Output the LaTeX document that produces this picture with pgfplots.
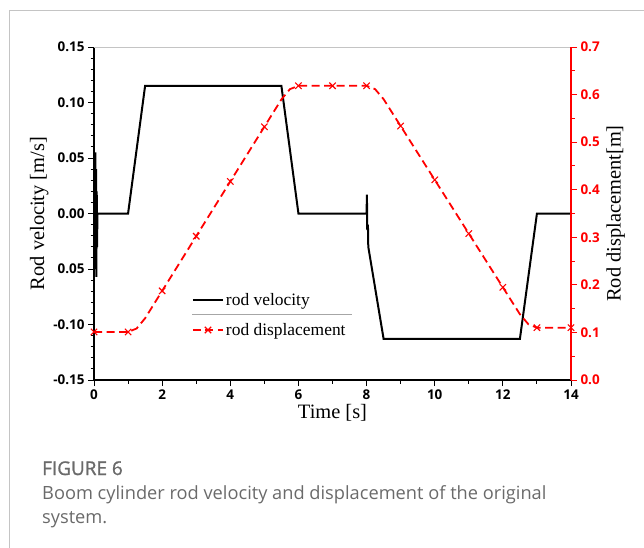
\documentclass[border=0pt]{standalone}
\usepackage{pgfplots}
\pgfplotsset{compat=1.18}
\usepackage{fontspec}
\setmainfont{Liberation Serif}
\newfontfamily\ticksans{Open Sans}
\newfontfamily\capsans{Open Sans}
\newfontfamily\capsemi[FakeBold=1.2]{Open Sans}
\definecolor{capgray}{HTML}{6A6A6A}
\definecolor{framegray}{HTML}{C4C4C4}

\begin{document}
\begin{tikzpicture}[x=1bp,y=1bp]
\path[use as bounding box] (0,0) rectangle (644,-548);
% page frame
\draw[framegray, line width=0.9bp] (9,-548) -- (9,-10) -- (644,-10);

% velocity (left axis)
\begin{axis}[
  at={(94bp,-380bp)}, anchor=south west,
  scale only axis, width=477bp, height=333bp,
  xmin=0, xmax=14, ymin=-0.15, ymax=0.15,
  axis x line*=bottom, axis y line*=left,
  axis line style={black, line width=1.1bp},
  xtick={0,2,...,14}, minor xtick={1,3,...,13},
  ytick={-0.15,-0.10,-0.05,0,0.05,0.10,0.15},
  yticklabels={-0.15,-0.10,0.05,0.00,0.05,0.10,0.15},
  minor ytick={-0.14,-0.13,...,0.145},
  tick align=outside, tick pos=left,
  major tick length=6bp, minor tick length=3.5bp,
  every tick/.style={black, line width=1bp},
  /pgf/number format/assume math mode=true,
  tick label style={font=\ticksans\bfseries\fontsize{13.5}{15}\selectfont},
  xlabel={Time [s]}, ylabel={Rod velocity [m/s]},
  label style={font=\fontsize{20.5}{22}\selectfont},
  xlabel style={yshift=2bp},
  ylabel style={yshift=-2bp},
  clip=false,
]
\addplot[black, line width=2bp] coordinates {
 (0,0) (0.03,0) (0.04,0.055) (0.05,-0.05) (0.06,0.04) (0.07,-0.057)
 (0.08,0.02) (0.09,-0.03) (0.10,0) (1.0,0) (1.5,0.115) (5.5,0.115)
 (6.0,0) (8.0,0) (8.01,0.017) (8.02,-0.015) (8.04,-0.01) (8.05,-0.03)
 (8.5,-0.113) (12.5,-0.113) (13.0,0) (14,0)
};
% light top border
\draw[framegray, line width=0.9bp] (rel axis cs:0,1) -- (rel axis cs:1,1);
\end{axis}

% displacement (right axis)
\begin{axis}[
  at={(94bp,-380bp)}, anchor=south west,
  scale only axis, width=477bp, height=333bp,
  xmin=0, xmax=14, ymin=0, ymax=0.7,
  axis x line=none, axis y line*=right,
  axis line style={red, line width=1.1bp},
  ytick={0,0.1,...,0.71}, minor ytick={0.05,0.15,...,0.66},
  tick align=outside,
  major tick length=6bp, minor tick length=3.5bp,
  every tick/.style={red, line width=1bp},
  /pgf/number format/assume math mode=true,
  yticklabel style={red, font=\ticksans\bfseries\fontsize{13.5}{15}\selectfont,
    /pgf/number format/.cd, fixed, fixed zerofill, precision=1},
  ylabel={Rod displacement[m]},
  ylabel style={font=\fontsize{20.5}{22}\selectfont, black},
  legend style={at={(rel axis cs:0.205,0.266)}, anchor=north west,
    draw=none, fill=none, font=\fontsize{17.5}{19}\selectfont,
    row sep=12bp, inner sep=0pt,
    /tikz/every even column/.style={column sep=5bp}},
  legend cell align=left,
  legend image code/.code={%
    \draw[mark repeat=2, mark phase=2, #1]
      plot coordinates {(0bp,0bp) (15bp,0bp) (30bp,0bp)};},
  clip=false,
]
\addlegendimage{black, line width=2bp}
\addlegendentry{rod velocity}
\addplot[red, line width=1.8bp, dash pattern=on 8bp off 4.5bp,
  mark=x, mark size=4.5bp, mark repeat=4,
  mark options={solid, line width=1.1bp}] coordinates {
 (0,0.101) (0.25,0.101) (0.5,0.101) (0.75,0.101) (1.0,0.101)
 (1.25,0.1082) (1.5,0.1298) (1.75,0.1585) (2.0,0.1873) (2.25,0.2160)
 (2.5,0.2448) (2.75,0.2735) (3.0,0.3023) (3.25,0.3310) (3.5,0.3598)
 (3.75,0.3885) (4.0,0.4173) (4.25,0.4460) (4.5,0.4748) (4.75,0.5035)
 (5.0,0.5323) (5.25,0.5610) (5.5,0.5898) (5.75,0.6114) (6.0,0.6185)
 (6.25,0.6185) (6.5,0.6185) (6.75,0.6185) (7.0,0.6185) (7.25,0.6185)
 (7.5,0.6185) (7.75,0.6185) (8.0,0.6185) (8.25,0.6114) (8.5,0.5903)
 (8.75,0.5620) (9.0,0.5338) (9.25,0.5055) (9.5,0.4773) (9.75,0.4490)
 (10.0,0.4208) (10.25,0.3925) (10.5,0.3643) (10.75,0.3360) (11.0,0.3078)
 (11.25,0.2795) (11.5,0.2513) (11.75,0.2230) (12.0,0.1948) (12.25,0.1665)
 (12.5,0.1383) (12.75,0.1171) (13.0,0.1100) (13.25,0.1100) (13.5,0.1100)
 (13.75,0.1100) (14.0,0.1100)
};
\addlegendentry{rod displacement}
\end{axis}

% legend separator
\draw[gray!70, line width=0.7bp] (192,-314) -- (352,-314);

% caption
\node[anchor=base west, text=capgray, font=\capsemi\fontsize{19}{21}\selectfont, inner sep=0pt]
  at (42,-475) {FIGURE 6};
\node[anchor=base west, text=capgray, font=\capsans\fontsize{18.3}{21}\selectfont, inner sep=0pt]
  at (42,-499) {Boom cylinder rod velocity and displacement of the original};
\node[anchor=base west, text=capgray, font=\capsans\fontsize{18.3}{21}\selectfont, inner sep=0pt]
  at (42,-523) {system.};
\end{tikzpicture}
\end{document}
